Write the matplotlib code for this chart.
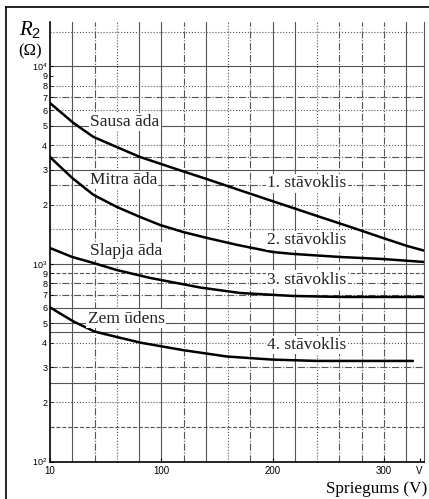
import numpy as np
import matplotlib
matplotlib.use("Agg")
import matplotlib.pyplot as plt
from matplotlib.lines import Line2D

plt.rcParams['mathtext.fontset'] = 'custom'
plt.rcParams['mathtext.rm'] = 'Liberation Sans'
plt.rcParams['mathtext.it'] = 'Liberation Serif:italic'

# voltage (V) and resistance R2 (Ohm)
v1 = [0, 21, 39, 60, 81, 99, 120, 141, 168, 200, 218, 240, 261, 279, 299, 321, 337]
r1 = [6530, 5180, 4400, 3910, 3480, 3220, 2940, 2690, 2390, 2080, 1925, 1750, 1600, 1480, 1355, 1233, 1165]
v2 = [0, 20, 39, 60, 81, 99, 120, 141, 168, 200, 218, 261, 299, 337]
r2 = [3480, 2725, 2240, 1945, 1730, 1575, 1450, 1355, 1250, 1150, 1125, 1085, 1060, 1023]
v3 = [0, 20, 39, 60, 90, 135, 171, 218, 261, 337]
r3 = [1205, 1085, 1012, 932, 850, 760, 713, 689, 681, 681]
v4 = [0, 21, 40, 60, 81, 120, 159, 200, 240, 326]
r4 = [603, 512, 455, 427, 400, 366, 340, 328, 323, 323]

left_labels = ["Sausa āda", "Mitra āda", "Slapja āda", "Zem ūdens"]
left_x = [36, 35.5, 35.5, 34]
left_y = [5000, 2540, 1110, 505]
right_labels = ["1. stāvoklis", "2. stāvoklis", "3. stāvoklis", "4. stāvoklis"]
right_x = [195, 195, 195, 195]
right_y = [2450, 1260, 795, 371]

# grid of the scanned nomogram
v_grid = [20, 40, 60, 80, 100, 120, 140, 160, 180, 200, 220, 240, 260, 280, 300, 320]
v_style = ['-', '-.', ':', '-', '-', '-.', '-', ':', '-.', '-', '-', ':', '-.', '-.', '-.', '-']
h_grid = [150, 200, 250, 300, 400, 450, 500, 600, 700, 800, 900, 1000,
          1500, 2000, 2500, 3000, 3500, 4000, 5000, 6000, 7000, 8000, 10000, 15000]
h_style = ['--', ':', '-', '-.', ':', '-', '-', '-', '-.', '-.', '--', '-',
           ':', ':', '-.', '-', '-.', ':', '-', ':', '-.', ':', '-', ':']

major_y = [100, 1000, 10000]
major_y_lbl = [r'$\mathregular{10^2}$', r'$\mathregular{10^3}$', r'$\mathregular{10^4}$']
minor_y = [m * d for d in (100, 1000) for m in range(2, 10)]
minor_y_lbl = [str(m) for d in (100, 1000) for m in range(2, 10)]
x_ticks = [0, 100, 200, 300, 332]
x_tick_lbl = ['10', '100', '200', '300', 'V']

fig = plt.figure(figsize=(4.29, 4.99), dpi=100)
ax = fig.add_axes([50 / 429, 37.5 / 499, 374 / 429, 439.5 / 499])
ax.set_yscale('log')
ax.set_xlim(0, 336)
ax.set_ylim(100, 16800)

gcol = '#555555'
for v, s in zip(v_grid, v_style):
    ax.axvline(v, color=gcol, lw=0.8, ls=s, zorder=1)
for h, s in zip(h_grid, h_style):
    ax.axhline(h, color=gcol, lw=0.8, ls=s, zorder=1)

for v, r in ((v1, r1), (v2, r2), (v3, r3), (v4, r4)):
    ax.plot(v, r, color='black', lw=1.8, zorder=3, solid_capstyle='round',
            solid_joinstyle='round')

box = dict(facecolor='white', edgecolor='none', pad=1.0)
for t, x, y in zip(left_labels + right_labels, left_x + right_x, left_y + right_y):
    ax.text(x, y, t, ha='left', va='baseline', fontsize=12.5,
            family='Liberation Serif', color='#222222', bbox=box, zorder=4)

ax.set_yticks(major_y)
ax.set_yticklabels(major_y_lbl)
ax.set_yticks(minor_y, minor=True)
ax.set_yticklabels(minor_y_lbl, minor=True)
ax.set_xticks(x_ticks)
ax.set_xticklabels(x_tick_lbl)
ax.tick_params(axis='y', which='both', length=2, direction='in', pad=2,
               labelsize=6.5, colors='black')
ax.tick_params(axis='x', length=3, direction='in', pad=3, labelsize=7)
for lbl in ax.get_xticklabels() + ax.get_yticklabels(which='both'):
    lbl.set_family('Liberation Sans')

ax.spines['top'].set_visible(False)
ax.spines['right'].set_color(gcol)
ax.spines['left'].set_linewidth(1.2)
ax.spines['bottom'].set_linewidth(1.2)

fig.text(19 / 429, 1 - 35 / 499, r'$R_2$', fontsize=15, ha='left', va='baseline')
fig.text(18 / 429, 1 - 55 / 499, '(Ω)', fontsize=12, family='Liberation Serif',
         ha='left', va='baseline')
fig.text(427 / 429, 1 - 493 / 499, 'Spriegums (V)', fontsize=12.3,
         family='Liberation Serif', ha='right', va='baseline')

# outer frame of the scanned figure
fig.add_artist(Line2D([6 / 429, 6 / 429], [0, 1 - 7 / 499], color='black', lw=1.2,
                      transform=fig.transFigure))
fig.add_artist(Line2D([6 / 429, 1], [1 - 7 / 499, 1 - 7 / 499], color='black', lw=1.2,
                      transform=fig.transFigure))

fig.savefig('out.png', dpi=100)
